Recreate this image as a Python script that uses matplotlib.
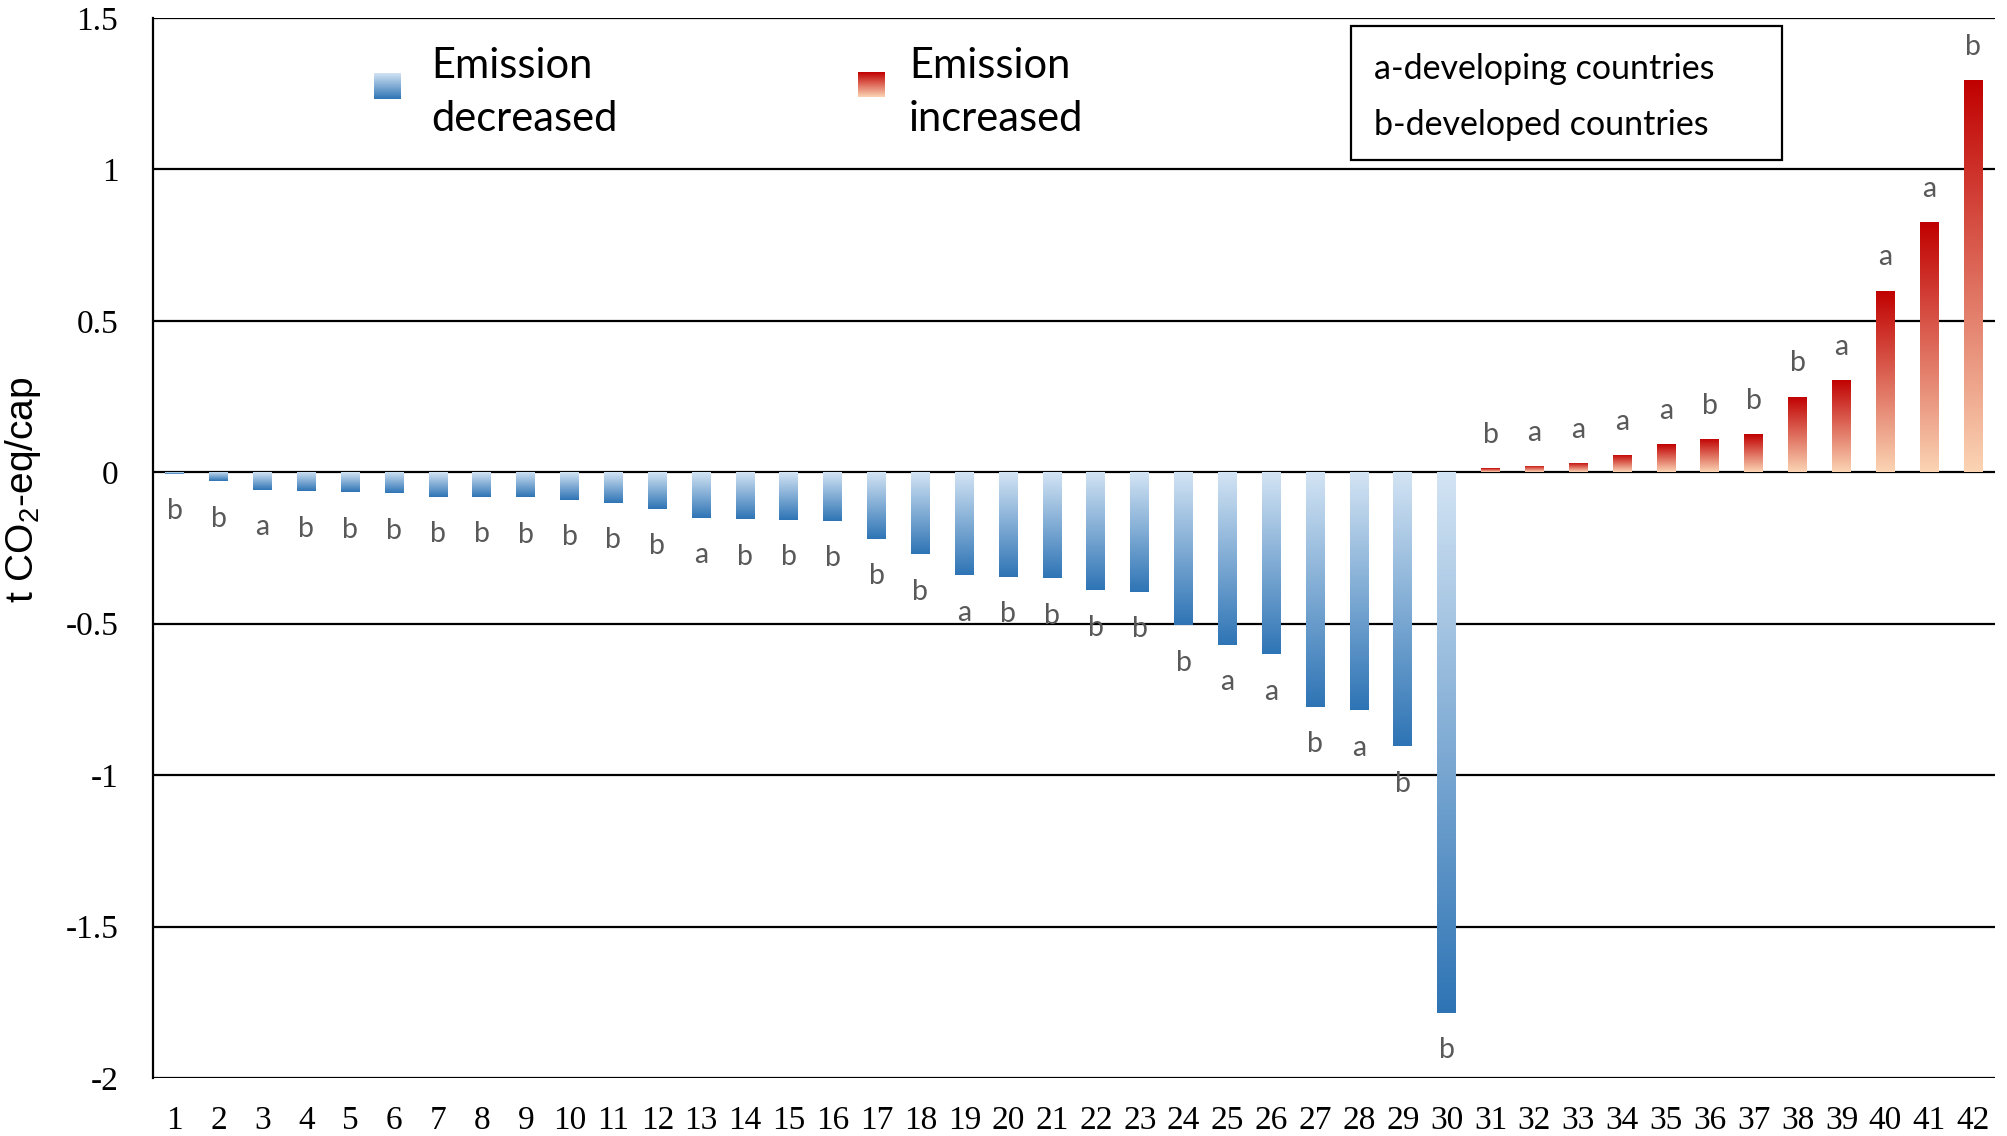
import numpy as np
import matplotlib
matplotlib.use("Agg")
import matplotlib.pyplot as plt
from matplotlib.colors import LinearSegmentedColormap
from matplotlib.patches import Rectangle

countries = list(range(1, 43))
values = [-0.005, -0.03, -0.057, -0.063, -0.066, -0.07, -0.08, -0.08, -0.083, -0.09,
          -0.10, -0.12, -0.15, -0.155, -0.157, -0.16, -0.22, -0.27, -0.34, -0.345,
          -0.35, -0.39, -0.395, -0.505, -0.57, -0.60, -0.775, -0.785, -0.905, -1.785,
          0.013, 0.02, 0.03, 0.057, 0.092, 0.11, 0.125, 0.25, 0.305, 0.60,
          0.825, 1.295]
groups = ['b', 'b', 'a', 'b', 'b', 'b', 'b', 'b', 'b', 'b',
          'b', 'b', 'a', 'b', 'b', 'b', 'b', 'b', 'a', 'b',
          'b', 'b', 'b', 'b', 'a', 'a', 'b', 'a', 'b', 'b',
          'b', 'a', 'a', 'a', 'a', 'b', 'b', 'b', 'a', 'a',
          'a', 'b']
yticks = [-2, -1.5, -1, -0.5, 0, 0.5, 1, 1.5]
ytick_labels = ['-2', '-1.5', '-1', '-0.5', '0', '0.5', '1', '1.5']

plt.rcParams['mathtext.fontset'] = 'custom'
plt.rcParams['mathtext.rm'] = 'Liberation Sans'

W, H = 2008, 1136
fig = plt.figure(figsize=(W / 100, H / 100), dpi=100)
ax = fig.add_axes([153 / W, 1 - 1078 / H, (1995 - 153) / W, (1078 - 18) / H])

blue_cmap = LinearSegmentedColormap.from_list('b', ['#d3e4f4', '#2e74b5'])   # top light -> bottom dark
red_cmap = LinearSegmentedColormap.from_list('r', ['#c00000', '#fbd4b4'])    # top dark -> bottom light
grad = np.linspace(0, 1, 256).reshape(-1, 1)

ax.set_xlim(0.5, 42.5)
ax.set_ylim(-2, 1.5)

width = 0.43
bars = ax.bar(countries, values, width=width, color='none', edgecolor='none', zorder=3)
for b, v in zip(bars, values):
    x0 = b.get_x()
    x1 = x0 + b.get_width()
    top = max(0, v)
    bot = min(0, v)
    cmap = blue_cmap if v < 0 else red_cmap
    im = ax.imshow(grad, cmap=cmap, aspect='auto', extent=(x0, x1, bot, top),
                   origin='upper', zorder=3, interpolation='bilinear')
    im.set_clip_path(b)

for x, v, g in zip(countries, values, groups):
    off = -27 if v < 0 else 24
    ax.annotate(g, (x, v), xytext=(0, off), textcoords='offset points',
                ha='center', va='center', fontsize=20.5, color='#595959',
                family='Lato', zorder=4)

ax.set_yticks(yticks)
ax.set_yticklabels(ytick_labels, family='Liberation Serif', fontsize=24)
ax.set_xticks(countries)
ax.set_xticklabels([str(c) for c in countries], family='Liberation Serif', fontsize=24)
ax.tick_params(axis='both', length=0)
ax.tick_params(axis='y', pad=25)
ax.tick_params(axis='x', pad=20)
ax.yaxis.grid(True, color='black', linewidth=1.6, zorder=1)
ax.set_axisbelow(True)
for s in ['top', 'right', 'bottom']:
    ax.spines[s].set_visible(False)
ax.spines['left'].set_linewidth(1.6)
ax.spines['left'].set_color('black')

fig.text(23 / W, 1 - 490 / H, 't CO$_\\mathregular{2}$-eq/cap', rotation=90,
         ha='center', va='center', fontsize=28, family='Liberation Sans')

# legend squares with gradient
def grad_square(x0, y0, x1, y1, cmap):
    a = fig.add_axes([x0 / W, 1 - y1 / H, (x1 - x0) / W, (y1 - y0) / H])
    a.imshow(grad, cmap=cmap, aspect='auto', interpolation='bilinear')
    a.set_axis_off()

grad_square(374, 73, 401, 99, blue_cmap)
grad_square(858, 72, 885, 97, red_cmap)

fig.text(431 / W, 1 - 66 / H, 'Emission', fontsize=30, family='Lato', va='center', ha='left')
fig.text(431 / W, 1 - 119 / H, 'decreased', fontsize=30, family='Lato', va='center', ha='left')
fig.text(909 / W, 1 - 66 / H, 'Emission', fontsize=30, family='Lato', va='center', ha='left')
fig.text(909 / W, 1 - 119 / H, 'increased', fontsize=30, family='Lato', va='center', ha='left')

box = Rectangle((1351 / W, 1 - 160 / H), (1782 - 1351) / W, (160 - 26) / H,
                transform=fig.transFigure, facecolor='white', edgecolor='black',
                linewidth=1.6, zorder=5)
fig.add_artist(box)
fig.text(1374 / W, 1 - 69 / H, 'a-developing countries', fontsize=24.5, family='Lato',
         va='center', ha='left', zorder=6)
fig.text(1374 / W, 1 - 125 / H, 'b-developed countries', fontsize=24.5, family='Lato',
         va='center', ha='left', zorder=6)

fig.savefig('out.png', dpi=100)
